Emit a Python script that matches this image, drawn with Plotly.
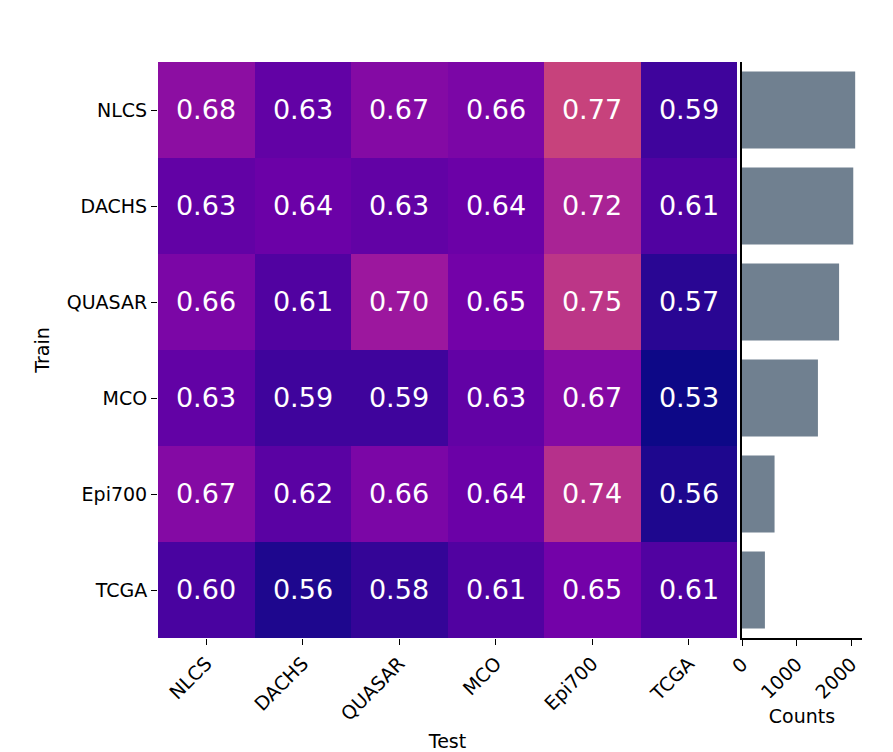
import plotly.graph_objects as go

datasets = ["NLCS", "DACHS", "QUASAR", "MCO", "Epi700", "TCGA"]

# rows = train set, columns = test set
scores = [
    [0.68, 0.63, 0.67, 0.66, 0.77, 0.59],
    [0.63, 0.64, 0.63, 0.64, 0.72, 0.61],
    [0.66, 0.61, 0.70, 0.65, 0.75, 0.57],
    [0.63, 0.59, 0.59, 0.63, 0.67, 0.53],
    [0.67, 0.62, 0.66, 0.64, 0.74, 0.56],
    [0.60, 0.56, 0.58, 0.61, 0.65, 0.61],
]

counts = [2075, 2040, 1780, 1392, 597, 420]

W, H = 893, 752
OFF = 8  # page body margin shifts the figure by 8px
FONT = "DejaVu Sans"


def px_x(a, b):
    return [(a - OFF) / W, (b - OFF) / W]


def px_y(top, bottom):
    return [(H - bottom + OFF) / H, (H - top + OFF) / H]


fig = go.Figure()

fig.add_trace(
    go.Heatmap(
        z=scores, x=datasets, y=datasets,
        colorscale="Plasma", zmin=0.545, zmax=1.01,
        showscale=False,
        text=[[f"{v:.2f}" for v in row] for row in scores],
        texttemplate="%{text}",
        textfont=dict(family=FONT, size=27, color="white"),
        xaxis="x", yaxis="y",
    )
)

fig.add_trace(
    go.Bar(
        x=counts, y=datasets, orientation="h",
        marker=dict(color="#708090", line=dict(width=0)),
        width=0.8,
        xaxis="x2", yaxis="y2",
    )
)

tick_font = dict(family=FONT, size=19, color="black")

fig.update_layout(
    width=W, height=H,
    margin=dict(l=0, r=0, t=0, b=0, autoexpand=False),
    plot_bgcolor="white", paper_bgcolor="white",
    showlegend=False,
    xaxis=dict(
        domain=px_x(158, 737), anchor="y",
        tickangle=-45, ticks="outside", ticklen=6, tickcolor="black",
        tickfont=tick_font, showgrid=False, zeroline=False,
        automargin=False,
        title=dict(text="Test", font=tick_font, standoff=10),
    ),
    yaxis=dict(
        domain=px_y(62, 638), anchor="x",
        autorange="reversed",
        ticks="outside", ticklen=6, tickcolor="black",
        tickfont=tick_font, showgrid=False, zeroline=False,
        automargin=False,
        title=dict(text="Train", font=tick_font, standoff=12),
    ),
    xaxis2=dict(
        domain=px_x(742, 862), anchor="y2",
        range=[0, 2200],
        tickvals=[0, 1000, 2000],
        tickangle=-45, ticks="outside", ticklen=6, tickcolor="black",
        tickfont=tick_font, showgrid=False, zeroline=False,
        showline=True, linecolor="black", linewidth=1.5,
        automargin=False,
        title=dict(text="Counts", font=tick_font, standoff=8),
    ),
    yaxis2=dict(
        domain=px_y(62, 638), anchor="x2",
        categoryorder="array", categoryarray=datasets,
        range=[5.5, -0.5],
        showticklabels=False, ticks="",
        showgrid=False, zeroline=False,
        showline=True, linecolor="black", linewidth=1.5,
        automargin=False,
    ),
)

fig.write_html("out.html")
